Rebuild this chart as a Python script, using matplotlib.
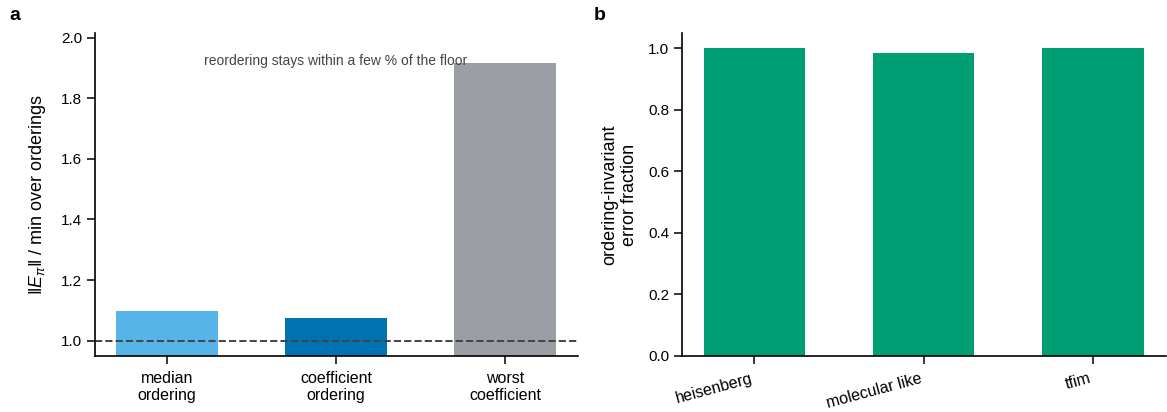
import matplotlib as mpl
import matplotlib.pyplot as plt
import numpy as np

mpl.rcParams['font.family'] = ['Liberation Sans', 'DejaVu Sans']
mpl.rcParams['mathtext.fontset'] = 'custom'
mpl.rcParams['mathtext.rm'] = 'Liberation Sans'
mpl.rcParams['mathtext.it'] = 'Liberation Sans:italic'
mpl.rcParams['axes.unicode_minus'] = False

# panel a data
order_labels = ['median\nordering', 'coefficient\nordering', 'worst\ncoefficient']
order_ratio = [1.098, 1.074, 1.917]
order_colors = ['#56B4E9', '#0072B2', '#9B9EA4']

# panel b data
models = ['heisenberg', 'molecular like', 'tfim']
invariant_frac = [1.0, 0.985, 1.0]

fig = plt.figure(figsize=(11.67, 4.12), dpi=100)
ax1 = fig.add_axes([0.081, 0.136, 0.414, 0.784])
ax2 = fig.add_axes([0.584, 0.136, 0.415, 0.784])

for ax in (ax1, ax2):
    ax.spines['top'].set_visible(False)
    ax.spines['right'].set_visible(False)
    ax.spines['left'].set_linewidth(1.2)
    ax.spines['bottom'].set_linewidth(1.2)
    ax.tick_params(direction='out', length=5.5, width=1.1, labelsize=11)
    ax.tick_params(axis='x', pad=5)

x = np.arange(len(order_labels))
ax1.bar(x, order_ratio, width=0.6, color=order_colors)
ax1.axhline(1.0, color='#444444', linestyle='--', linewidth=1.4)
ax1.set_ylim(0.95, 2.015)
ax1.set_xticks(x)
ax1.set_xticklabels(order_labels, fontsize=11.5)
ax1.set_ylabel(r'$\|E_\pi\|$ / min over orderings', fontsize=13, labelpad=9)
ax1.text(0.5, 0.912, 'reordering stays within a few % of the floor',
         transform=ax1.transAxes, ha='center', va='center',
         fontsize=10, color='#444444')

xb = np.arange(len(models))
ax2.bar(xb, invariant_frac, width=0.6, color='#009E73')
ax2.set_ylim(0, 1.05)
ax2.set_xticks(xb)
ax2.set_xticklabels(models, rotation=15, ha='right', fontsize=11.5)
ax2.set_ylabel('ordering-invariant\nerror fraction', fontsize=13, labelpad=7)

fig.text(0.008, 0.962, 'a', fontsize=14, fontweight='bold', va='center')
fig.text(0.509, 0.962, 'b', fontsize=14, fontweight='bold', va='center')

fig.savefig('out.png', dpi=100)
